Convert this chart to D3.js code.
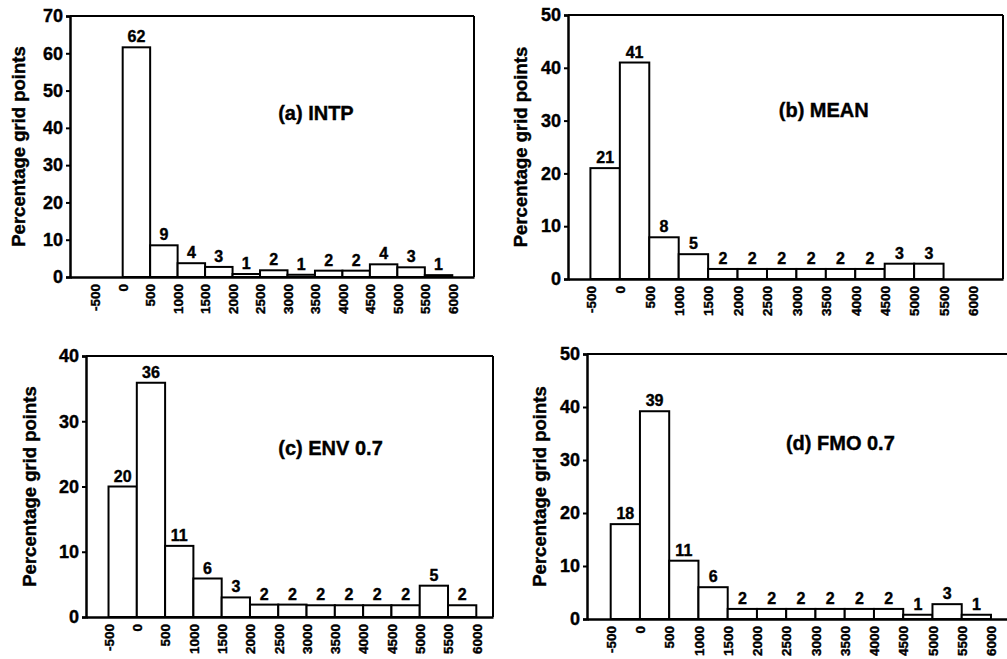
<html>
 <head>
 <title>Percentage grid points</title>
 <script src="https://d3js.org/d3.v7.min.js" charset="utf-8"></script>
<style>
body {
 margin: 0;
 background: white;
 font-family: "Liberation Sans", Arial, sans-serif;
}
text {
 font-weight: bold;
 fill: black;
 stroke: black;
 stroke-width: 0.4px;
}
</style>
 </head>
 <body>
 <script>
   // bin edges shown on the x axis
   var edges = [-500, 0, 500, 1000, 1500, 2000, 2500, 3000, 3500, 4000, 4500, 5000, 5500, 6000];
   var tickLabels = ["-500", "0", "500", "1000", "1500", "2000", "2500", "3000", "3500", "4000", "4500", "5000", "5500", "6000"];

   // bar heights (percent) for the 13 bins -500..6000, and the numbers printed over them
   var intpHeights = [0, 61.6, 8.5, 3.7, 2.7, 0.8, 1.8, 0.6, 1.7, 1.7, 3.4, 2.6, 0.5];
   var intpLabels  = [null, 62, 9, 4, 3, 1, 2, 1, 2, 2, 4, 3, 1];
   var meanHeights = [21, 41, 7.9, 4.7, 1.9, 1.9, 1.9, 1.9, 1.9, 1.9, 2.9, 2.9, 0];
   var meanLabels  = [21, 41, 8, 5, 2, 2, 2, 2, 2, 2, 3, 3, null];
   var envHeights  = [20, 35.9, 10.9, 5.9, 3, 1.9, 1.9, 1.8, 1.8, 1.8, 1.8, 4.8, 1.8];
   var envLabels   = [20, 36, 11, 6, 3, 2, 2, 2, 2, 2, 2, 5, 2];
   var fmoHeights  = [17.9, 39.2, 11, 6, 1.9, 1.9, 1.9, 1.9, 1.9, 1.9, 0.8, 2.8, 0.8];
   var fmoLabels   = [18, 39, 11, 6, 2, 2, 2, 2, 2, 2, 1, 3, 1];

   var titles = ["(a) INTP", "(b) MEAN", "(c) ENV 0.7", "(d) FMO 0.7"];
   var yMaxes = [70, 50, 40, 50];

   // where each panel sits on the page
   var panels = [
     { title: titles[0], h: intpHeights, lab: intpLabels, ymax: yMaxes[0], left: 70, right: 474, top: 16, bottom: 277, x0: -959, x1: 6395, tx: 2830, ty: 42, yl: 51, box: true },
     { title: titles[1], h: meanHeights, lab: meanLabels, ymax: yMaxes[1], left: 568, right: 1003, top: 15, bottom: 279, x0: -881, x1: 6510, tx: 2700, ty: 30.7, yl: 47, box: true },
     { title: titles[2], h: envHeights, lab: envLabels, ymax: yMaxes[2], left: 86, right: 493, top: 356, bottom: 617, x0: -898, x1: 6295, tx: 2500, ty: 24.8, yl: 56, box: true },
     { title: titles[3], h: fmoHeights, lab: fmoLabels, ymax: yMaxes[3], left: 587, right: 1030, top: 354, bottom: 619, x0: -905, x1: 6667, tx: 2495, ty: 31.9, yl: 47, box: false }
   ];

   var width = 1007;
   var height = 659;

   var svg = d3.select("body")
     .append("svg")
     .attr("width", width)
     .attr("height", height);

   svg.append("rect").attr("width", width).attr("height", height).attr("fill", "white");

   panels.forEach(function(p) {
     var x = d3.scaleLinear().domain([p.x0, p.x1]).range([p.left, p.right]);
     var y = d3.scaleLinear().domain([0, p.ymax]).range([p.bottom, p.top]);
     var g = svg.append("g");

     var bins = p.h.map(function(v, i) { return { lo: edges[i], hi: edges[i + 1], v: v, lab: p.lab[i] }; });

     // bars
     g.selectAll("rect.bar")
       .data(bins.filter(function(d) { return d.v > 0; }))
       .enter()
       .append("rect")
       .attr("class", "bar")
       .attr("x", function(d) { return x(d.lo); })
       .attr("width", function(d) { return x(d.hi) - x(d.lo); })
       .attr("y", function(d) { return y(d.v); })
       .attr("height", function(d) { return y(0) - y(d.v); })
       .attr("fill", "white")
       .attr("stroke", "black")
       .attr("stroke-width", 2);

     // numbers over bars
     g.selectAll("text.val")
       .data(bins.filter(function(d) { return d.lab != null; }))
       .enter()
       .append("text")
       .attr("class", "val")
       .attr("x", function(d) { return (x(d.lo) + x(d.hi)) / 2; })
       .attr("y", function(d) { return y(d.v) - 5; })
       .attr("text-anchor", "middle")
       .style("font-size", "16px")
       .text(function(d) { return d.lab; });

     // frame
     g.append("line").attr("x1", p.left).attr("x2", p.right).attr("y1", p.top).attr("y2", p.top)
       .attr("stroke", "black").attr("stroke-width", 2);
     if (p.box) {
       g.append("line").attr("x1", p.right).attr("x2", p.right).attr("y1", p.top).attr("y2", p.bottom)
         .attr("stroke", "black").attr("stroke-width", 2);
     }

     // y axis
     var yAxis = g.append("g")
       .attr("transform", "translate(" + p.left + ",0)")
       .call(d3.axisLeft(y).tickValues(d3.range(0, p.ymax + 1, 10)).tickSize(4).tickPadding(3));
     yAxis.select(".domain").attr("stroke-width", 2.5);
     yAxis.selectAll(".tick line").attr("stroke-width", 2);
     yAxis.selectAll("text").style("font-size", "18px").style("font-family", "Liberation Sans, Arial, sans-serif");

     // x axis: labels at the bin edges, no ticks
     var xAxis = g.append("g")
       .attr("transform", "translate(0," + p.bottom + ")")
       .call(d3.axisBottom(x).tickValues(edges).tickFormat(function(d, i) { return tickLabels[i]; }).tickSize(0).tickSizeOuter(0));
     xAxis.select(".domain").attr("stroke-width", 2.5);
     xAxis.selectAll("text")
       .attr("transform", "rotate(-90)")
       .attr("text-anchor", "end")
       .attr("x", -7)
       .attr("y", 0)
       .attr("dy", "0.35em")
       .style("font-size", "13.5px")
       .style("font-family", "Liberation Sans, Arial, sans-serif");

     // y label
     g.append("text")
       .attr("transform", "translate(" + (p.left - p.yl) + "," + ((p.top + p.bottom) / 2) + ") rotate(-90)")
       .attr("text-anchor", "middle")
       .attr("dy", "0.35em")
       .style("font-size", "18.5px")
       .text("Percentage grid points");

     // panel title
     g.append("text")
       .attr("x", x(p.tx))
       .attr("y", y(p.ty))
       .style("font-size", "20px")
       .text(p.title);
   });
 </script>
 </body>
</html>
